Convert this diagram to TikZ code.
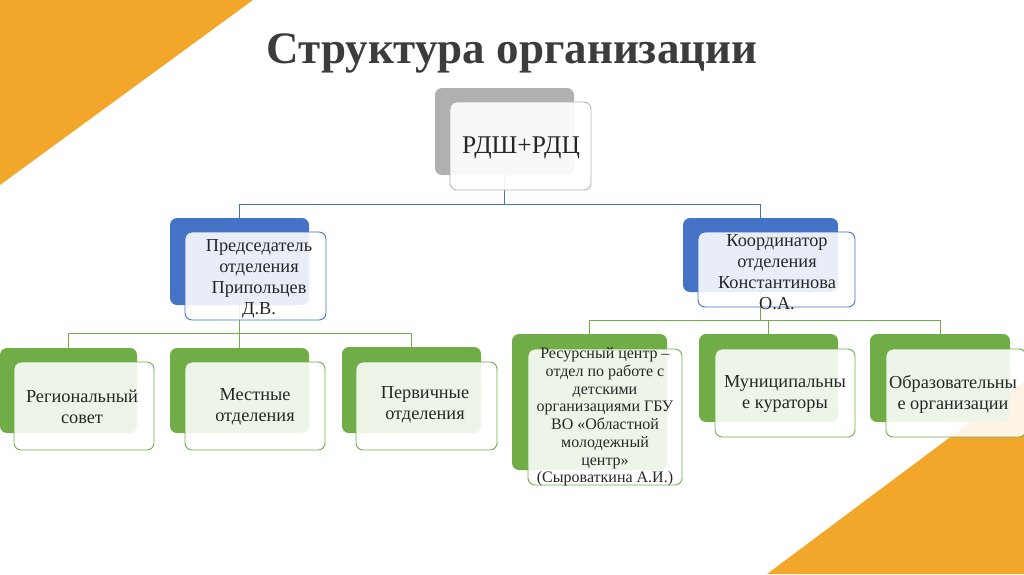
\documentclass[tikz,border=0pt]{standalone}
\usepackage{fontspec}
\setmainfont{Liberation Serif}
\definecolor{orng}{HTML}{F2A72B}
\definecolor{grayb}{HTML}{B0B0B0}
\definecolor{grayf}{HTML}{B4B4B4}
\definecolor{blu}{HTML}{4472C4}
\definecolor{grn}{HTML}{70AD47}
\definecolor{txtc}{HTML}{262626}
\definecolor{ttl}{HTML}{3C3C3C}
\begin{document}
\begin{tikzpicture}[x=1pt,y=-1pt,
  bx/.style={rectangle, rounded corners=7pt, inner sep=0pt, outer sep=0pt},
  backgray/.style={bx, fill=grayb},
  backblue/.style={bx, fill=blu},
  backgreen/.style={bx, fill=grn},
  frontgray/.style={bx, draw=grayf, line width=0.9pt, fill=white, fill opacity=0.9},
  frontblue/.style={bx, draw=blu, line width=0.9pt, fill=white, fill opacity=0.88},
  frontgreen/.style={bx, draw=grn, line width=0.9pt, fill=white, fill opacity=0.88},
  txt/.style={align=center, inner sep=0pt, text=txtc, font=\fontsize{18.3}{21}\selectfont},
  smalltxt/.style={align=center, inner sep=0pt, text=txtc, font=\fontsize{16}{17.7}\selectfont},
  blueline/.style={draw=blu, line width=0.9pt},
  greenline/.style={draw=grn, line width=1pt}]
\clip (0,0) rectangle (1024,574);
\fill[orng] (0,0) -- (253,0) -- (0,185) -- cycle;
\fill[orng] (1024,382) -- (1024,574) -- (767,574) -- cycle;

\node[inner sep=0pt, text=ttl, font=\fontsize{45}{50}\selectfont\bfseries] (title) at (512,53) {Структура организации};

% back boxes
\node[backgray, minimum width=139pt, minimum height=87pt] (tb) at (504.5,131.5) {};
\node[backblue, minimum width=139pt, minimum height=87pt] (lm) at (239.5,261.5) {};
\node[backblue, minimum width=155pt, minimum height=74pt] (rm) at (760.5,255) {};
\node[backgreen, minimum width=137pt, minimum height=85pt] (b1) at (68.5,390.5) {};
\node[backgreen, minimum width=139pt, minimum height=85pt] (b2) at (239.5,390.5) {};
\node[backgreen, minimum width=139pt, minimum height=86pt] (b3) at (411.5,390) {};
\node[backgreen, minimum width=155pt, minimum height=136pt] (b4) at (589.5,402) {};
\node[backgreen, minimum width=139pt, minimum height=88pt] (b5) at (768.5,378) {};
\node[backgreen, minimum width=140pt, minimum height=88pt] (b6) at (940,378) {};

% connectors
\draw[blueline] (tb.south) -- ++(0,29) -| (lm.north);
\draw[blueline] (tb.south) -- ++(0,29) -| (rm.north);
\draw[greenline] (lm.south) -- ++(0,28) -| (b1.north);
\draw[greenline] (lm.south) -- ++(0,28) -| (b2.north);
\draw[greenline] (lm.south) -- ++(0,28) -| (b3.north);
\draw[greenline] (rm.south) -- ++(0,28) -| (b4.north);
\draw[greenline] (rm.south) -- ++(0,28) -| (b5.north);
\draw[greenline] (rm.south) -- ++(0,28) -| (b6.north);

% front boxes
\node[frontgray, minimum width=141pt, minimum height=88pt] (tf) at (520.5,146) {};
\node[frontblue, minimum width=141pt, minimum height=88pt] (lf) at (255.5,276) {};
\node[frontblue, minimum width=157pt, minimum height=75pt] (rf) at (776.5,269.5) {};
\node[frontgreen, minimum width=140pt, minimum height=88pt] (f1) at (84,406) {};
\node[frontgreen, minimum width=140pt, minimum height=88pt] (f2) at (255,406) {};
\node[frontgreen, minimum width=141pt, minimum height=88pt] (f3) at (426.5,406) {};
\node[frontgreen, minimum width=154pt, minimum height=136pt] (f4) at (605,417) {};
\node[frontgreen, minimum width=140pt, minimum height=88pt] (f5) at (785,393) {};
\node[frontgreen, minimum width=140pt, minimum height=88pt] (f6) at (956,393) {};

% texts
\node[txt, font=\fontsize{25.5}{30}\selectfont] (t0) at (521,148) {РДШ+РДЦ};
\node[txt] (t1) at (259,279) {Председатель\\отделения\\Припольцев\\Д.В.};
\node[txt] (t2) at (777,272) {Координатор\\отделения\\Константинова\\О.А.};
\node[txt] (t3) at (82,407) {Региональный\\совет};
\node[txt] (t4) at (255,407) {Местные\\отделения};
\node[txt] (t5) at (425,405) {Первичные\\отделения};
\node[smalltxt] (t6) at (605,417) {Ресурсный центр –\\отдел по работе с\\детскими\\организациями ГБУ\\ВО «Областной\\молодежный\\центр»\\(Сыроваткина А.И.)};
\node[txt] (t7) at (785,394) {Муниципальны\\е кураторы};
\node[txt] (t8) at (953,394) {Образовательны\\е организации};
\end{tikzpicture}
\end{document}
